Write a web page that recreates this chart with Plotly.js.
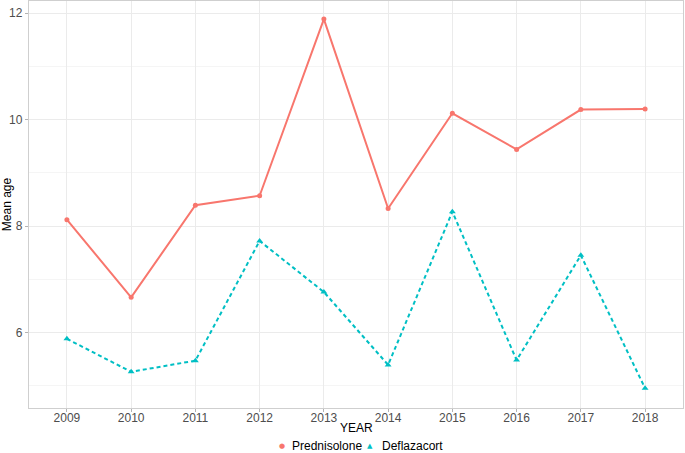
<!DOCTYPE html>
<html>
<head>
<meta charset="utf-8">
<script src="https://cdn.plot.ly/plotly-3.0.1.min.js"></script>
<style>html,body{margin:0;padding:0;background:#fff;}#chart{width:685px;height:453px;}</style>
</head>
<body>
<div id="chart"></div>
<script>
var years = [2009, 2010, 2011, 2012, 2013, 2014, 2015, 2016, 2017, 2018];
var prednisolone = [8.12, 6.66, 8.39, 8.57, 11.89, 8.33, 10.12, 9.44, 10.19, 10.20];
var deflazacort = [5.88, 5.26, 5.47, 7.72, 6.76, 5.39, 8.27, 5.48, 7.45, 4.95];
var seriesNames = ["Prednisolone", "Deflazacort"];
var yTicks = [6, 8, 10, 12];

var red = "#F8766D", teal = "#00BFC4";
var traces = [
  {x: years, y: prednisolone, mode: "lines+markers", name: seriesNames[0], showlegend: false,
   line: {color: red, width: 2}, marker: {color: red, size: 5, symbol: "circle"}},
  {x: years, y: deflazacort, mode: "lines+markers", name: seriesNames[1], showlegend: false,
   line: {color: teal, width: 2, dash: "4px,3px"}, marker: {color: teal, size: 6, symbol: "triangle-up"}}
];

// plot area in px: left 29, width 654; legend positions expressed in paper fraction
function px(x) { return (x - 29) / 654; }
var legY = -38;
var annotations = [
  {text: "YEAR", xref: "paper", yref: "paper", x: 0.5, y: 0, yshift: -20,
   xanchor: "center", yanchor: "middle", showarrow: false, font: {size: 12, color: "#000"}},
  {text: "●", xref: "paper", yref: "paper", x: px(282), y: 0, yshift: legY,
   xanchor: "center", yanchor: "middle", showarrow: false, font: {size: 7, color: red, family: "DejaVu Sans"}},
  {text: seriesNames[0], xref: "paper", yref: "paper", x: px(290), y: 0, yshift: legY,
   xanchor: "left", yanchor: "middle", showarrow: false, font: {size: 12, color: "#000"}},
  {text: "▲", xref: "paper", yref: "paper", x: px(370), y: 0, yshift: legY,
   xanchor: "center", yanchor: "middle", showarrow: false, font: {size: 7, color: teal, family: "DejaVu Sans"}},
  {text: seriesNames[1], xref: "paper", yref: "paper", x: px(380), y: 0, yshift: legY,
   xanchor: "left", yanchor: "middle", showarrow: false, font: {size: 12, color: "#000"}}
];

var layout = {
  width: 685, height: 453,
  margin: {l: 29, r: 2, t: 1, b: 45, autoexpand: false},
  paper_bgcolor: "#fff", plot_bgcolor: "#fff",
  font: {family: "Liberation Sans, Arial, sans-serif", size: 12, color: "#000"},
  showlegend: false,
  annotations: annotations,
  xaxis: {
    range: [2008.41, 2018.59], tickvals: years, ticktext: years.map(String),
    showgrid: true, gridcolor: "#ebebeb", gridwidth: 1,
    ticks: "outside", ticklen: 3, tickcolor: "#b3b3b3",
    ticklabelstandoff: -5,
    tickfont: {size: 12, color: "#4d4d4d"},
    zeroline: false, showline: true, mirror: true, linecolor: "#cfcfcf", linewidth: 1.2
  },
  yaxis: {
    range: [4.58, 12.23], tickvals: yTicks,
    showgrid: true, gridcolor: "#ebebeb", gridwidth: 1,
    minor: {dtick: 1, tick0: 5, showgrid: true, gridcolor: "#f5f5f5", gridwidth: 1},
    ticks: "outside", ticklen: 3, tickcolor: "#b3b3b3",
    tickfont: {size: 12, color: "#4d4d4d"},
    zeroline: false, showline: true, mirror: true, linecolor: "#cfcfcf", linewidth: 1.2,
    title: {text: "Mean age", font: {size: 12, color: "#000"}, standoff: 2}
  }
};

Plotly.newPlot("chart", traces, layout, {displayModeBar: false, staticPlot: true});
</script>
</body>
</html>
